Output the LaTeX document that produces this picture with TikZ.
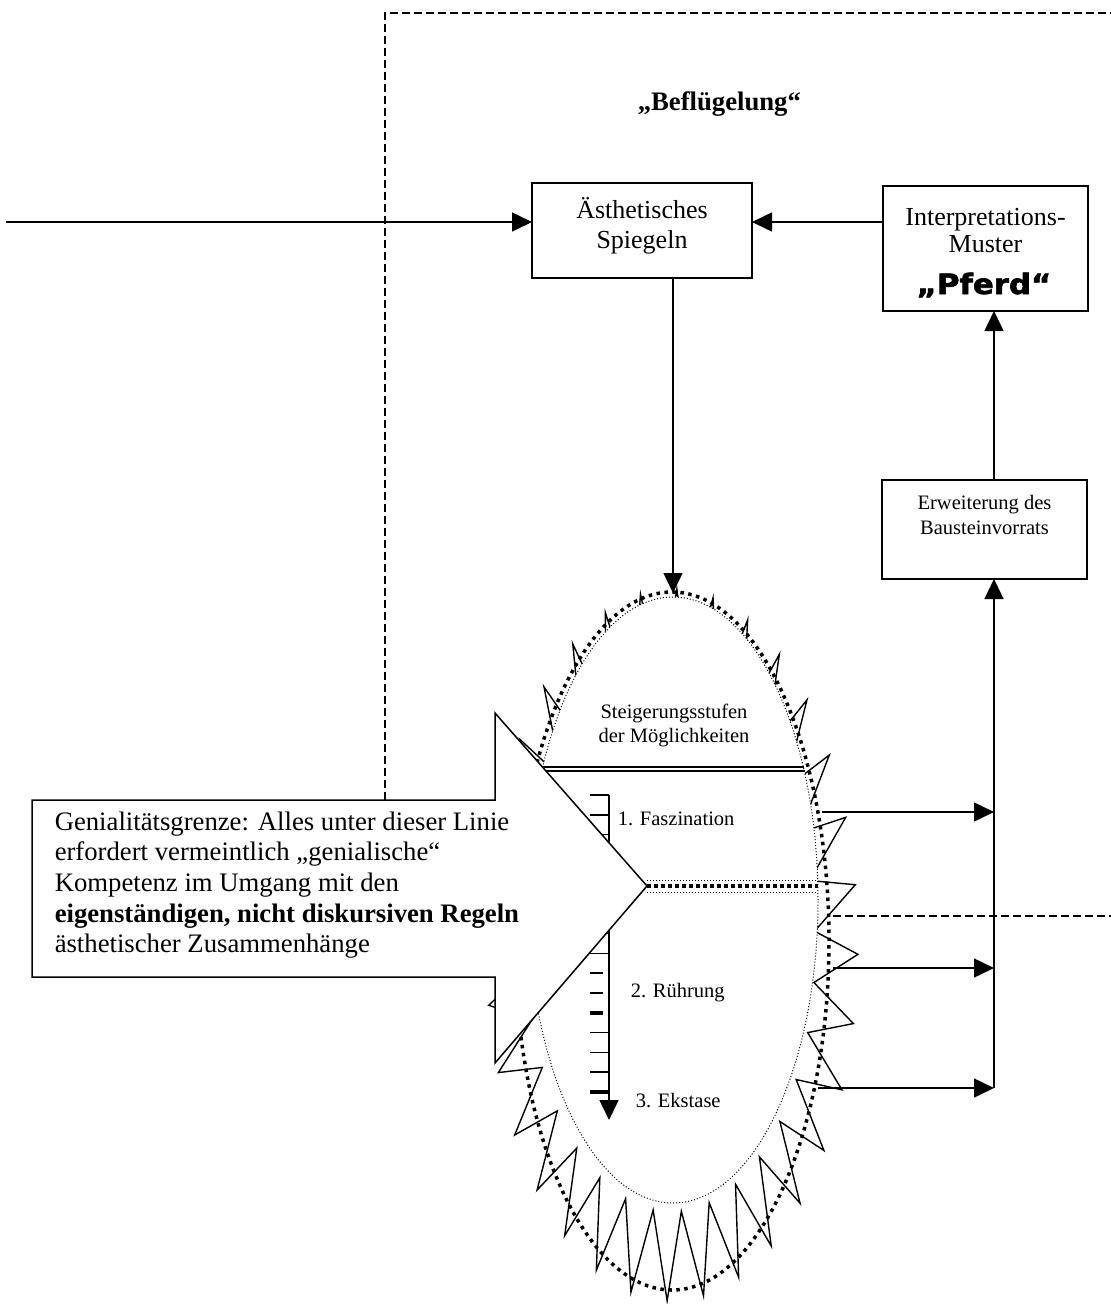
\documentclass[tikz,border=0pt]{standalone}
\usepackage{fontspec}
\setmainfont{Liberation Serif}
\newfontfamily\pferdfont[FakeStretch=1.1,FakeBold=2.2]{DejaVu Sans}
\usetikzlibrary{arrows.meta,shapes.geometric}

\begin{document}
\begin{tikzpicture}[x=1pt,y=-1pt,
  line width=1.5pt,
  tip/.style={-{Triangle[length=20pt,width=19pt]}},
  box/.style={draw,line width=1.5pt,inner sep=0pt,outer sep=0pt,fill=white},
  dashline/.style={line width=1.5pt,dash pattern=on 8pt off 4pt},
  thindot/.style={line width=1pt,dash pattern=on 1pt off 2pt},
  thickdot/.style={line width=3.5pt,dash pattern=on 3.5pt off 4.5pt},
  lbl/.style={inner sep=0pt,anchor=base},
  boxfont/.style={font=\fontsize{26}{30}\selectfont},
  smallfont/.style={font=\fontsize{20.5}{24}\selectfont},
  notefont/.style={font=\fontsize{26.7}{30.7}\selectfont},
]
\useasboundingbox (0,0) rectangle (1111,1304);

% ---- dashed frame lines
\coordinate (fcorner) at (385,13);
\coordinate (fright) at (1111,13);
\coordinate (fdown) at (385,800);
\draw[dashline] (fdown) -- (fcorner) -- (fright);
\coordinate (d1) at (833,916);
\coordinate (d2) at (1111,916);
\draw[dashline] (d1) -- (d2);

% ---- burst around the egg
\draw[line width=1.4pt]
  ({671+144*sin(-7.125)},{950+262*cos(-7.125)})
  \foreach \k in {0,...,31}{
    -- ({672+186*sin(11.25*\k-1.5)},{945+356*cos(11.25*\k-1.5)})
    -- ({671+144*sin(11.25*\k+4.125)},{950+262*cos(11.25*\k+4.125)})
  } -- cycle;
\draw[thickdot] (672,941) ellipse [x radius=157pt, y radius=349pt];

% ---- the egg of possibilities
\node[ellipse,thindot,draw,fill=white,inner sep=0pt,outer sep=0pt,
      minimum width=290pt,minimum height=606pt] (egg) at (673,900) {};

\node[lbl,smallfont] (st1) at (674,718) {Steigerungsstufen};
\node[lbl,smallfont] (st2) at (674,742) {der Möglichkeiten};
\coordinate (dl1) at (542,767); \coordinate (dr1) at (804,767);
\coordinate (dl2) at (543,771); \coordinate (dr2) at (805,771);
\draw (dl1) -- (dr1);
\draw (dl2) -- (dr2);

% ---- scale of intensity
\coordinate (rtop) at (609,795);
\coordinate (rbot) at (609,1120);
\draw[tip] (rtop) -- (rbot);
\foreach \i in {0,...,15}{
  \pgfmathsetmacro{\yy}{795+19.8*\i}
  \ifnum\i=9 \draw (590,\yy) -- (603,\yy);
  \else\ifnum\i=10 \draw (590,\yy) -- (603,\yy);
  \else\ifnum\i=11 \draw[line width=3.5pt] (590,\yy) -- (603,\yy);
  \else\ifnum\i=15 \draw[line width=3.5pt] (590,\yy) -- (609,\yy);
  \else \draw (590,\yy) -- (609,\yy);
  \fi\fi\fi\fi
}
\node[lbl,smallfont,anchor=base west] (s1) at (617,825) {1. Faszination};
\node[lbl,smallfont,anchor=base west] (s2) at (630,997) {2. Rührung};
\node[lbl,smallfont,anchor=base west] (s3) at (635,1107) {3. Ekstase};

% ---- genius border line
\coordinate (gtip) at (647,886);
\coordinate (gend) at (818,886);
\draw[thindot] ([yshift=-6pt]gtip) -- ([yshift=-6pt]gend);
\draw[thindot] ([yshift=6pt]gtip) -- ([yshift=6pt]gend);
\draw[line width=4pt,dash pattern=on 4pt off 3pt] (gtip) -- (gend);

% ---- arrows to the right column
\coordinate (vx) at (994,1088);
\coordinate (r1) at (822,812);
\coordinate (r2) at (833,968);
\coordinate (r3) at (818,1088);
\draw[tip] (r1) -- (r1 -| vx);
\draw[tip] (r2) -- (r2 -| vx);
\draw[tip] (r3) -- (vx);

% ---- callout arrow
\draw[fill=white,line join=miter]
  (32,800) -- (495,800) -- (495,713) -- (gtip) -- (495,1063) -- (495,977) -- (32,977) -- cycle;
\node[lbl,notefont,anchor=base west] (n1) at (54,830) {Genialitätsgrenze: Alles unter dieser Linie};
\node[lbl,notefont,anchor=base west] (n2) at (54,860.7) {erfordert vermeintlich „genialische“};
\node[lbl,notefont,anchor=base west] (n3) at (54,891.4) {Kompetenz im Umgang mit den};
\node[lbl,notefont,anchor=base west] (n4) at (54,922.1) {\bfseries eigenständigen, nicht diskursiven Regeln};
\node[lbl,notefont,anchor=base west] (n5) at (54,952.8) {ästhetischer Zusammenhänge};

% ---- title
\node[lbl,anchor=base west,font=\bfseries\fontsize{26.7}{30}\selectfont] (title) at (637,110) {„Beflügelung“};

% ---- boxes
\node[box,minimum width=220pt,minimum height=95pt] (ae) at (642,230.5) {};
\node[lbl,boxfont] (ae1) at (642,218) {Ästhetisches};
\node[lbl,boxfont] (ae2) at (642,248) {Spiegeln};

\node[box,minimum width=205pt,minimum height=125pt] (ip) at (985.5,248.5) {};
\node[lbl,boxfont] (ip1) at (985.5,225) {Interpretations-};
\node[lbl,boxfont] (ip2) at (985.5,252) {Muster};
\node[lbl,font=\pferdfont\bfseries\fontsize{28}{30}\selectfont] (ip3) at (984,294) {„Pferd“};

\node[box,minimum width=205pt,minimum height=99pt] (ew) at (984.5,529.5) {};
\node[lbl,smallfont] (ew1) at (984.5,509) {Erweiterung des};
\node[lbl,smallfont] (ew2) at (984.5,534) {Bausteinvorrats};

% ---- connectors between boxes
\coordinate (lin) at (6,222);
\draw[tip] (lin) -- (lin -| ae.west);
\draw[tip] (ip.west |- lin) -- (ae.east |- lin);
\draw[tip] (ae.south -| egg.north) -- ([yshift=4pt]egg.north);
\draw[tip] (ew.north -| vx) -- (ip.south -| vx);
\draw[tip] (vx) -- (ew.south -| vx);
\end{tikzpicture}
\end{document}
